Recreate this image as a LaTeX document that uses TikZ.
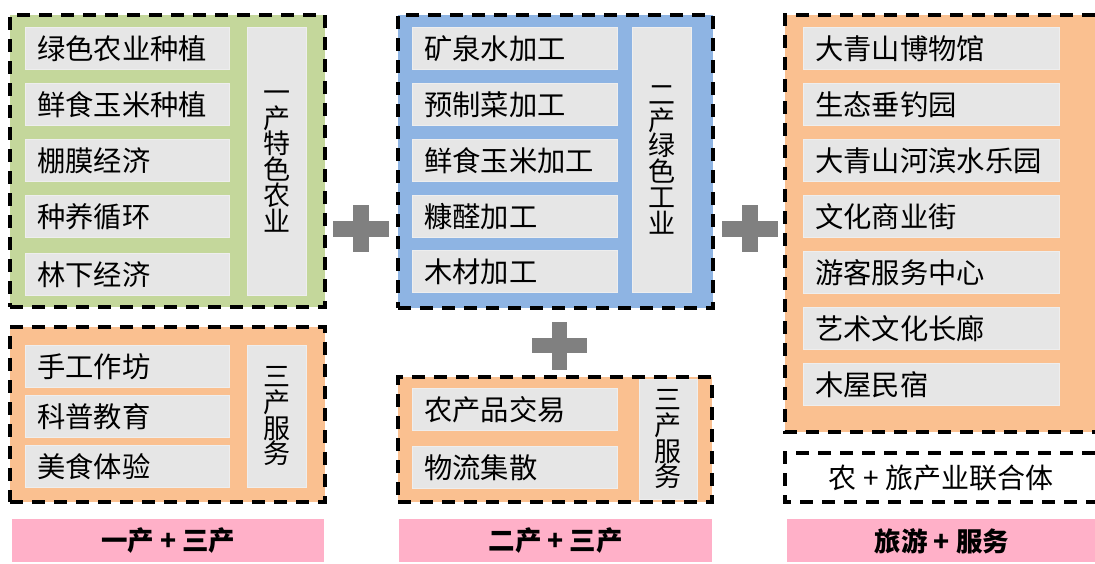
\documentclass[tikz,border=0pt]{standalone}
\usepackage{fontspec}
\setmainfont{Noto Sans CJK SC}
\usetikzlibrary{positioning}
\definecolor{grn}{HTML}{C4D79B}
\definecolor{blu}{HTML}{8EB4E3}
\definecolor{org}{HTML}{FAC090}
\definecolor{itm}{HTML}{E6E6E6}
\definecolor{itmb}{HTML}{EEEEEE}
\definecolor{pnk}{HTML}{FFB0C8}
\definecolor{plusc}{HTML}{808080}
\tikzset{
  dashborder/.style={draw=black, line width=3.6pt, dash pattern=on 13pt off 9pt},
  outer/.style={dashborder, anchor=north west, inner sep=0pt, outer sep=0pt},
  openbox/.style={anchor=north west, inner sep=0pt, outer sep=0pt},
  itembox/.style={fill=itm, draw=itmb, line width=0.6pt, anchor=north west, inner xsep=12pt, inner ysep=0pt,
    minimum height=42pt, align=left, font=\fontsize{28.3}{30}\selectfont},
  vlabel/.style={fill=itm, draw=itmb, line width=0.6pt, anchor=north west, inner sep=0pt,
    align=center, font=\fontsize{27}{25.8}\selectfont},
  pinkbar/.style={fill=pnk, anchor=north west, inner sep=0pt, minimum height=43pt,
    font=\fontsize{26.5}{28}\selectfont\bfseries},
  plusbar/.style={fill=plusc, draw=none}
}
\begin{document}
\begin{tikzpicture}[x=1pt,y=-1pt]
\useasboundingbox (0,0) rectangle (1095,563);
\fill[white] (0,0) rectangle (1095,563);
% ---------- left column ----------
\node[outer, fill=grn, minimum width=315pt, minimum height=292pt] (G) at (10,15) {};
\node[itembox, text width=180pt] (g1) at (25,27) {绿色农业种植};
\node[itembox, text width=180pt] (g2) at (25,83) {鲜食玉米种植};
\node[itembox, text width=180pt] (g3) at (25,139) {棚膜经济};
\node[itembox, text width=180pt] (g4) at (25,195) {种养循环};
\node[itembox, text width=180pt] (g5) at (25,253) {林下经济};
\node[vlabel, minimum width=59pt, text width=59pt, minimum height=268pt] (gv) at (247,27) {一\\产\\特\\色\\农\\业};

\node[outer, fill=org, minimum width=315pt, minimum height=175pt] (O1) at (10,327) {};
\node[itembox, text width=180pt] (o1) at (25,345) {手工作坊};
\node[itembox, text width=180pt] (o2) at (25,395) {科普教育};
\node[itembox, text width=180pt] (o3) at (25,445) {美食体验};
\node[vlabel, minimum width=59pt, text width=59pt, minimum height=142pt] (ov) at (247,345) {三\\产\\服\\务};

\node[pinkbar, minimum width=312pt] (P1) at (12,519) {一产 + 三产};

% ---------- middle column ----------
\node[outer, fill=blu, minimum width=315pt, minimum height=293pt] (B) at (398,15) {};
\node[itembox, text width=181pt] (b1) at (412,27) {矿泉水加工};
\node[itembox, text width=181pt] (b2) at (412,83) {预制菜加工};
\node[itembox, text width=181pt] (b3) at (412,139) {鲜食玉米加工};
\node[itembox, text width=181pt] (b4) at (412,195) {糠醛加工};
\node[itembox, text width=181pt] (b5) at (412,250) {木材加工};
\node[vlabel, minimum width=59pt, text width=59pt, minimum height=265pt] (bv) at (632,27) {二\\产\\绿\\色\\工\\业};

\node[outer, fill=org, minimum width=314pt, minimum height=125pt] (O2) at (398,377) {};
\node[itembox, text width=181pt] (m1) at (412,388) {农产品交易};
\node[itembox, text width=181pt] (m2) at (412,446) {物流集散};
\node[vlabel, minimum width=58pt, text width=58pt, minimum height=120pt] (mv) at (639,379) {三\\产\\服\\务};

\node[pinkbar, minimum width=313pt] (P2) at (399,519) {二产 + 三产};

% ---------- right column (cut by the right edge) ----------
\node[openbox, fill=org, minimum width=310pt, minimum height=417pt] (R) at (785,15) {};
\draw[dashborder] (R.north east) -- (R.north west) -- (R.south west) -- (R.south east);
\node[itembox, text width=232pt] (r1) at (803,27) {大青山博物馆};
\node[itembox, text width=232pt] (r2) at (803,83) {生态垂钓园};
\node[itembox, text width=232pt] (r3) at (803,139) {大青山河滨水乐园};
\node[itembox, text width=232pt] (r4) at (803,195) {文化商业街};
\node[itembox, text width=232pt] (r5) at (803,251) {游客服务中心};
\node[itembox, text width=232pt] (r6) at (803,307) {艺术文化长廊};
\node[itembox, text width=232pt] (r7) at (803,363) {木屋民宿};

\node[openbox, fill=white, minimum width=310pt, minimum height=49pt] (U) at (785,453) {};
\draw[dashborder] (U.north east) -- (U.north west) -- (U.south west) -- (U.south east);
\node[font=\fontsize{28}{30}\selectfont, inner sep=0pt] (Ut) at (941,478) {农 + 旅产业联合体};

\node[pinkbar, minimum width=308pt] (P3) at (787,519) {};
\node[font=\fontsize{26.5}{28}\selectfont\bfseries, inner sep=0pt] (P3t) at (942,541) {旅游 + 服务};

% ---------- plus signs ----------
\fill[plusbar] (333,221) rectangle (389,237);
\fill[plusbar] (353,205) rectangle (369,252);
\fill[plusbar] (722,221) rectangle (778,237);
\fill[plusbar] (742,205) rectangle (758,252);
\fill[plusbar] (532,338) rectangle (587,353);
\fill[plusbar] (552,322) rectangle (567,370);
\end{tikzpicture}
\end{document}
